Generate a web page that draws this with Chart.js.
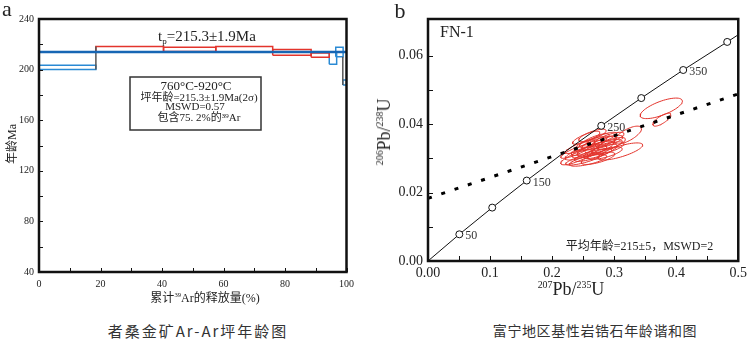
<!DOCTYPE html>
<html>
<head>
<meta charset="utf-8">
<script src="https://cdn.jsdelivr.net/npm/chart.js@4.4.1/dist/chart.umd.min.js"></script>
<style>
  body { margin: 0; background: #fff; width: 751px; height: 339px; position: relative; overflow: hidden; }
  .pane { position: absolute; }
  .lbl { position: absolute; white-space: nowrap; color: #222; font-family: "Liberation Serif", "Noto Sans CJK SC", serif; transform: translate(-50%, -50%); line-height: 1; }
  .rot { transform: translate(-50%, -50%) rotate(-90deg); }
  .cjk { font-family: "Noto Sans CJK SC", sans-serif; font-weight: 400; color: #333; }
  sup { font-size: 0.55em; vertical-align: 0.7em; }
</style>
</head>
<body>
<div class="pane" style="left:0;top:0;width:360px;height:300px"><canvas id="arChart"></canvas></div>
<div class="pane" style="left:370px;top:0;width:381px;height:300px"><canvas id="pbChart"></canvas></div>

<div class="lbl" style="left:7px;top:9px;font-size:22px">a</div>
<div class="lbl" style="left:400px;top:11px;font-size:22px">b</div>
<div class="lbl rot" style="left:12px;top:144px;font-size:12px">年龄Ma</div>
<div class="lbl" style="left:205px;top:298px;font-size:12px">累计<sup>39</sup>Ar的释放量(%)</div>
<div class="lbl rot" style="left:384px;top:132px;font-size:18px"><sup>206</sup>Pb/<sup>238</sup>U</div>
<div class="lbl" style="left:571px;top:289px;font-size:18px"><sup>207</sup>Pb/<sup>235</sup>U</div>
<div class="lbl cjk" style="left:198px;top:330px;font-size:15px;letter-spacing:2px">者桑金矿Ar-Ar坪年龄图</div>
<div class="lbl cjk" style="left:595px;top:330px;font-size:14px;letter-spacing:0.6px">富宁地区基性岩锆石年龄谐和图</div>

<script>
// ---- a: Ar-Ar plateau steps ----
const stepFrom = [0, 18.5, 40.5, 57.5, 76, 88.5, 94.4, 96.5, 98.8];
const stepTo   = [18.5, 40.5, 57.5, 76, 88.5, 94.4, 96.8, 98.9, 100];
const ageLow   = [200.0, 214.2, 214.3, 214.2, 211.3, 209.7, 204.2, 210.2, 187.8];
const ageHigh  = [203.4, 218.2, 217.6, 218.2, 215.9, 213.2, 213.7, 217.6, 191.7];
const inPlateau = [false, true, true, true, true, true, false, false, false];
const plateauAge = 214.0;
const joinAt   = [18.5, 98.8];
const joinLow  = [200.0, 187.8];
const joinHigh = [218.2, 210.2];

// ---- b: concordia diagram ----
const concAge   = [0, 50, 100, 150, 200, 250, 300, 350, 400, 413];
const concX     = [0, 0.0505, 0.1035, 0.1591, 0.2177, 0.2792, 0.3437, 0.4113, 0.4822, 0.5];
const concY     = [0, 0.0078, 0.0156, 0.0235, 0.0315, 0.0395, 0.0476, 0.0558, 0.0640, 0.0661];
const concMark  = [false, true, true, true, false, true, true, true, true, false];
const concLabel = ['', '50', '', '150', '', '250', '', '350', '', ''];
const discX = [0, 0.5];
const discY = [0.0183, 0.0488];

// zircon spots: centre, 2-sigma half widths, error correlation
const ellX   = [0.240, 0.248, 0.252, 0.256, 0.260, 0.262, 0.266, 0.268, 0.270, 0.274, 0.276, 0.278, 0.280, 0.283,
                0.285, 0.288, 0.255, 0.245, 0.238, 0.265, 0.290, 0.292, 0.258, 0.296, 0.322, 0.310, 0.376, 0.377];
const ellY   = [0.0303, 0.0315, 0.0298, 0.0330, 0.0320, 0.0342, 0.0310, 0.0352, 0.0328, 0.0300, 0.0345, 0.0320, 0.0358, 0.0335,
                0.0315, 0.0348, 0.0360, 0.0334, 0.0320, 0.0367, 0.0330, 0.0358, 0.0294, 0.0343, 0.0368, 0.0320, 0.0446, 0.0413];
const ellSx  = [0.026, 0.027, 0.030, 0.025, 0.028, 0.026, 0.030, 0.024, 0.029, 0.027, 0.028, 0.027, 0.024, 0.030,
                0.028, 0.026, 0.022, 0.024, 0.024, 0.022, 0.026, 0.024, 0.030, 0.022, 0.022, 0.036, 0.034, 0.0145];
const ellSy  = [0.0022, 0.0020, 0.0018, 0.0022, 0.0019, 0.0021, 0.0019, 0.0020, 0.0022, 0.0018, 0.0020, 0.0021, 0.0018, 0.0020,
                0.0018, 0.0019, 0.0019, 0.0020, 0.0020, 0.0018, 0.0018, 0.0018, 0.0017, 0.0018, 0.0026, 0.0025, 0.0030, 0.0019];
const ellRho = [0.80, 0.75, 0.80, 0.80, 0.70, 0.75, 0.80, 0.80, 0.75, 0.70, 0.75, 0.80, 0.80, 0.75,
                0.70, 0.75, 0.80, 0.85, 0.85, 0.75, 0.70, 0.75, 0.70, 0.70, 0.70, 0.75, 0.70, 0.75];

const serif = '"Liberation Serif", "Noto Sans CJK SC", serif';
const RED = '#e3342c';
const BLUE = '#2a8ad4';

// inward tick marks + heavy frame
function drawFrame(chart, len, lw) {
  const { ctx, chartArea: a, scales: { x, y } } = chart;
  ctx.save();
  ctx.strokeStyle = '#111';
  ctx.lineWidth = 1;
  x.ticks.forEach(t => {
    const px = Math.round(x.getPixelForValue(t.value)) + 0.5;
    ctx.beginPath(); ctx.moveTo(px, a.bottom); ctx.lineTo(px, a.bottom - len); ctx.stroke();
  });
  y.ticks.forEach(t => {
    const py = Math.round(y.getPixelForValue(t.value)) + 0.5;
    ctx.beginPath(); ctx.moveTo(a.left, py); ctx.lineTo(a.left + len, py); ctx.stroke();
  });
  ctx.lineWidth = lw;
  ctx.strokeRect(a.left, a.top, a.width, a.height);
  ctx.restore();
}

function boxPath(i) {
  return [
    { x: stepFrom[i], y: ageLow[i] }, { x: stepTo[i], y: ageLow[i] },
    { x: stepTo[i], y: ageHigh[i] }, { x: stepFrom[i], y: ageHigh[i] },
    { x: stepFrom[i], y: ageLow[i] }
  ];
}

const arSets = stepFrom.map((_, i) => ({
  data: boxPath(i),
  showLine: true,
  pointRadius: 0,
  borderColor: inPlateau[i] ? RED : BLUE,
  borderWidth: 1.5,
  order: 2
}));
joinAt.forEach((xv, i) => arSets.push({
  data: [{ x: xv, y: joinLow[i] }, { x: xv, y: joinHigh[i] }],
  showLine: true, pointRadius: 0, borderColor: '#555', borderWidth: 1.5, order: 1
}));
arSets.push({
  data: [{ x: 0, y: plateauAge }, { x: 100, y: plateauAge }],
  showLine: true, pointRadius: 0, borderColor: '#1766b4', borderWidth: 2.5, order: 0
});

const arText = {
  id: 'arText',
  afterDraw(chart) {
    const { ctx } = chart;
    drawFrame(chart, 4, 2.5);
    ctx.save();
    ctx.fillStyle = '#222';
    ctx.textBaseline = 'middle';
    // t_p label
    let x0 = 158;
    ctx.font = '15px ' + serif;
    ctx.fillText('t', x0, 37);
    x0 += ctx.measureText('t').width;
    ctx.font = '9px ' + serif;
    ctx.fillText('p', x0, 42);
    x0 += ctx.measureText('p').width;
    ctx.font = '15px ' + serif;
    ctx.fillText('=215.3±1.9Ma', x0, 37);
    // result box
    ctx.strokeStyle = '#333';
    ctx.lineWidth = 1.5;
    ctx.strokeRect(130, 77, 131, 53);
    ctx.textAlign = 'center';
    ctx.font = '13px ' + serif;
    ctx.fillText('760°C-920°C', 196, 87);
    ctx.font = '11px ' + serif;
    ctx.fillText('坪年龄=215.3±1.9Ma(2σ)', 199, 98);
    ctx.fillText('MSWD=0.57', 195, 107.5);
    ctx.fillText('包含75. 2%的³⁹Ar', 199, 118);
    ctx.restore();
  }
};

new Chart('arChart', {
  type: 'scatter',
  data: { datasets: arSets },
  options: {
    responsive: true,
    maintainAspectRatio: false,
    animation: false,
    layout: { padding: { top: 19, right: 11, left: 0, bottom: 0 } },
    plugins: { legend: { display: false }, tooltip: { enabled: false } },
    scales: {
      x: {
        type: 'linear', min: 0, max: 100,
        border: { display: false },
        grid: { display: false, drawTicks: false },
        ticks: { stepSize: 10, autoSkip: false, maxRotation: 0, padding: 6, color: '#222',
                 font: { family: serif, size: 10 }, callback: v => (v % 20 === 0 ? v : '') },
        afterFit: s => { s.height = 28; }
      },
      y: {
        type: 'linear', min: 40, max: 240,
        border: { display: false },
        grid: { display: false, drawTicks: false },
        ticks: { stepSize: 20, autoSkip: false, padding: 5, color: '#222',
                 font: { family: serif, size: 10 }, callback: v => (v % 40 === 0 ? v : '') },
        afterFit: s => { s.width = 39; }
      }
    }
  },
  plugins: [arText]
});

// ---- concordia chart ----
function ellipsePts(i) {
  const pts = [];
  const k = Math.sqrt(1 - ellRho[i] * ellRho[i]);
  for (let j = 0; j <= 60; j++) {
    const t = (j / 60) * Math.PI * 2;
    pts.push({ x: ellX[i] + ellSx[i] * Math.cos(t),
               y: ellY[i] + ellSy[i] * (ellRho[i] * Math.cos(t) + k * Math.sin(t)) });
  }
  return pts;
}

const pbSets = ellX.map((_, i) => ({
  data: ellipsePts(i),
  showLine: true, pointRadius: 0, borderColor: RED, borderWidth: 1, tension: 0, order: 3
}));
pbSets.push({
  data: discX.map((v, i) => ({ x: v, y: discY[i] })),
  showLine: true, pointRadius: 0, borderColor: '#000', borderWidth: 3,
  borderDash: [4, 10], borderCapStyle: 'butt', order: 1
});
pbSets.push({
  data: concX.map((v, i) => ({ x: v, y: concY[i] })),
  showLine: true, borderColor: '#111', borderWidth: 1,
  pointRadius: concMark.map(m => (m ? 3.5 : 0)),
  pointBackgroundColor: '#fff', pointBorderColor: '#111', pointBorderWidth: 1, order: 0
});

const pbText = {
  id: 'pbText',
  afterDraw(chart) {
    const { ctx, chartArea: a, scales: { x, y } } = chart;
    drawFrame(chart, 5, 2.5);
    ctx.save();
    ctx.fillStyle = '#333';
    ctx.textBaseline = 'middle';
    ctx.font = '12px ' + serif;
    concLabel.forEach((s, i) => {
      if (!s) return;
      ctx.fillText(s, x.getPixelForValue(concX[i]) + 6, y.getPixelForValue(concY[i]) + 2);
    });
    ctx.fillStyle = '#222';
    ctx.font = '16px ' + serif;
    ctx.fillText('FN-1', a.left + 12, a.top + 14);
    ctx.font = '12px ' + serif;
    ctx.textAlign = 'right';
    ctx.fillText('平均年龄=215±5，MSWD=2', a.right - 25, a.bottom - 14);
    ctx.restore();
  }
};

new Chart('pbChart', {
  type: 'scatter',
  data: { datasets: pbSets },
  options: {
    responsive: true,
    maintainAspectRatio: false,
    animation: false,
    layout: { padding: { top: 19, right: 9, left: 0, bottom: 0 } },
    plugins: { legend: { display: false }, tooltip: { enabled: false } },
    scales: {
      x: {
        type: 'linear', min: 0, max: 0.5,
        border: { display: false },
        grid: { display: false, drawTicks: false },
        ticks: { stepSize: 0.05, autoSkip: false, maxRotation: 0, padding: 4, color: '#222',
                 font: { family: serif, size: 14 },
                 callback: v => { const k = Math.round(v / 0.05); return k % 2 ? '' : (k === 0 ? '0.00' : (k / 20).toFixed(1)); } },
        afterFit: s => { s.height = 39; }
      },
      y: {
        type: 'linear', min: 0, max: 0.0707,
        border: { display: false },
        grid: { display: false, drawTicks: false },
        ticks: { stepSize: 0.01, autoSkip: false, padding: 5, color: '#222',
                 font: { family: serif, size: 14 },
                 callback: v => { const k = Math.round(v / 0.01); if (Math.abs(v - k * 0.01) > 1e-6) return ''; return k % 2 ? '' : v.toFixed(2); } },
        afterFit: s => { s.width = 58; }
      }
    }
  },
  plugins: [pbText]
});
</script>
</body>
</html>
